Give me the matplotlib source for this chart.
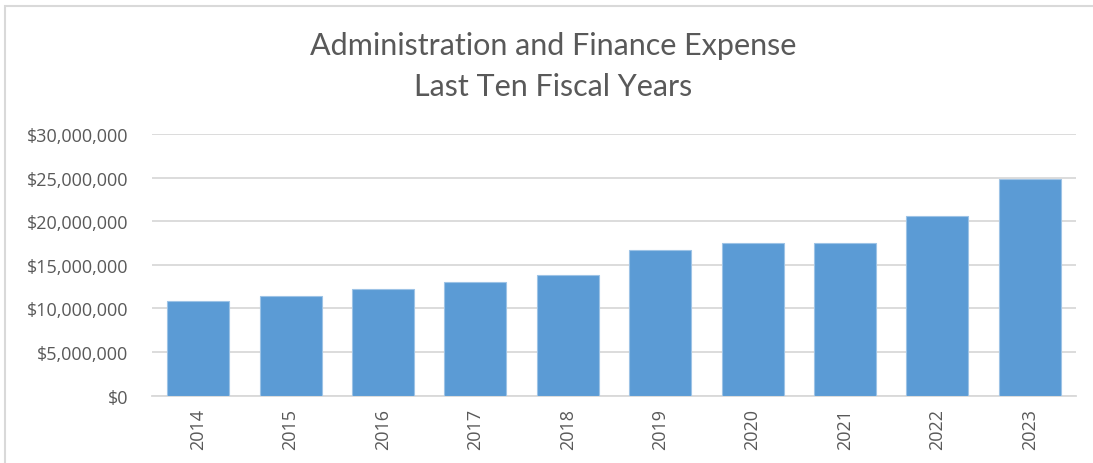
import matplotlib.pyplot as plt
from matplotlib.patches import Rectangle
from matplotlib.ticker import FuncFormatter, MultipleLocator

plt.rcParams['font.family'] = ['Open Sans', 'DejaVu Sans']

years = ["2014", "2015", "2016", "2017", "2018", "2019", "2020", "2021", "2022", "2023"]
expense = [10830000, 11460000, 12230000, 13040000, 13880000,
           16710000, 17510000, 17510000, 20570000, 24820000]

text_color = "#595959"
grid_color = "#d9d9d9"
bar_color = "#5b9bd5"

fig = plt.figure(figsize=(10.93, 4.64), dpi=100)
ax = fig.add_axes([152 / 1093, 1 - 396.7 / 464, 924 / 1093, (396.7 - 135) / 464])

x = range(len(years))
ax.bar(x, expense, width=0.67, color=bar_color, edgecolor="#9dc3e6", linewidth=0.8, zorder=3)

ax.set_xlim(-0.5, len(years) - 0.5)
ax.set_ylim(0, 30000000)
ax.yaxis.set_major_locator(MultipleLocator(5000000))
ax.yaxis.set_major_formatter(FuncFormatter(lambda v, p: f"${v:,.0f}"))
ax.grid(axis="y", color=grid_color, linewidth=1.3, zorder=0)
ax.set_xticks(list(x))
ax.set_xticklabels(years, rotation=90)

for s in ["top", "right", "left"]:
    ax.spines[s].set_visible(False)
ax.spines["bottom"].set_color(grid_color)
ax.spines["bottom"].set_linewidth(1.3)
ax.tick_params(axis="both", length=0, colors=text_color, labelsize=13)
ax.tick_params(axis="y", pad=17)
ax.tick_params(axis="x", pad=9)

title_font = ['Lato', 'DejaVu Sans']
fig.text(0.506, 1 - 46 / 464, "Administration and Finance Expense", ha="center", va="center",
         fontsize=22, color=text_color, family=title_font)
fig.text(0.506, 1 - 87 / 464, "Last Ten Fiscal Years", ha="center", va="center",
         fontsize=22, color=text_color, family=title_font)

# light outer frame (only top and left edges visible in the crop)
fig.patches.append(Rectangle((5 / 1093, -0.05), 1.1, 1 - 7 / 464 + 0.05, transform=fig.transFigure,
                             fill=False, edgecolor=grid_color, linewidth=1.5))

fig.savefig("out.png", dpi=100)
